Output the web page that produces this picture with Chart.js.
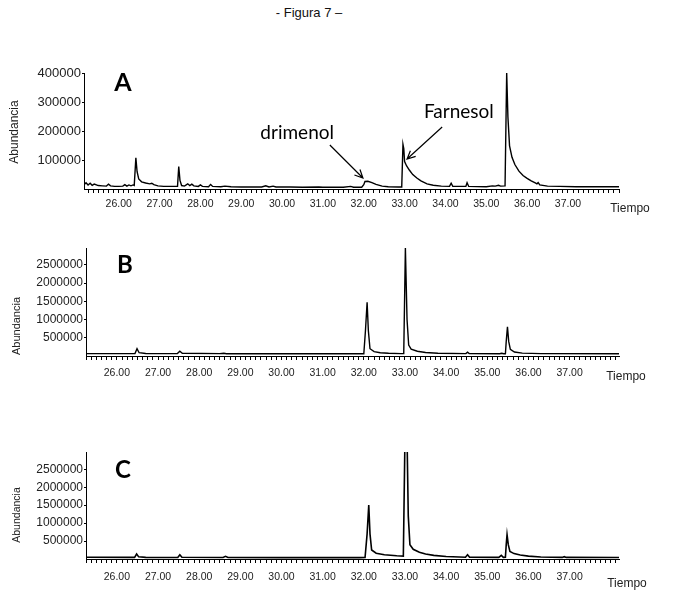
<!DOCTYPE html>
<html>
<head>
<meta charset="utf-8">
<script src="https://cdn.jsdelivr.net/npm/chart.js@4.4.1/dist/chart.umd.min.js"></script>
<style>
  body { margin: 0; background: #fff; }
  #page { position: relative; width: 675px; height: 594px; overflow: hidden; }
  #page canvas { position: absolute; left: 0; }
  .fig-title { position: absolute; left: 0; width: 618px; top: 5px; text-align: center;
               font: 13px "Liberation Sans", Arial, sans-serif; color: #111; }
</style>
</head>
<body>
<div id="page">
  <div class="fig-title">- Figura 7 –</div>
  <canvas id="chartA" width="675" height="175" style="top:50px"></canvas>
  <canvas id="chartB" width="675" height="160" style="top:230px"></canvas>
  <canvas id="chartC" width="675" height="159" style="top:435px"></canvas>
</div>
<script>
// x tick labels (minutes), shown on every panel
const xLabels = [26, 27, 28, 29, 30, 31, 32, 33, 34, 35, 36, 37];

// Panel A - abundance vs retention time
const timesA = [25.15, 25.2, 25.25, 25.3, 25.35, 25.4, 25.5, 25.6, 25.7, 25.75, 25.8, 25.9, 26.0, 26.1, 26.15, 26.2,
  26.25, 26.3, 26.35, 26.38, 26.42, 26.45, 26.49, 26.56, 26.66, 26.76, 26.81, 26.86, 26.96, 27.1, 27.3, 27.44,
  27.47, 27.5, 27.54, 27.61, 27.69, 27.74, 27.79, 27.84, 27.95, 28.0, 28.05, 28.2, 28.25, 28.3, 28.5, 28.6,
  28.75, 29.0, 29.5, 29.6, 29.68, 29.78, 29.85, 30.2, 30.5, 30.9, 31.0, 31.5, 31.68, 31.75, 31.95, 32.0,
  32.03, 32.1, 32.2, 32.3, 32.45, 32.6, 32.85, 32.93, 32.96, 32.98, 33.0, 33.05, 33.12, 33.2, 33.3, 33.4,
  33.55, 33.7, 33.9, 34.1, 34.14, 34.18, 34.5, 34.53, 34.57, 35.0, 35.15, 35.22, 35.3, 35.35, 35.46, 35.5,
  35.53, 35.57, 35.63, 35.7, 35.8, 35.9, 36.0, 36.1, 36.2, 36.24, 36.27, 36.31, 36.5, 36.8, 37.2, 37.8, 38.25];
const valuesA = [15000, 22000, 14000, 20000, 13000, 17000, 12000, 11000, 10000, 17000, 11000, 9000, 9000, 10000, 15000, 10000,
  14000, 11000, 14000, 12000, 108000, 60000, 35000, 25000, 21000, 18000, 20000, 15000, 11000, 9000, 9000, 9000,
  78000, 30000, 12000, 10000, 18000, 12000, 17000, 11000, 9000, 14000, 9000, 8000, 16000, 9000, 8000, 10000,
  8000, 7000, 7000, 11000, 7000, 10000, 7000, 7000, 6000, 7000, 6000, 6000, 9000, 6000, 6000, 15000,
  26000, 27000, 22000, 16000, 10000, 8000, 7000, 7000, 155000, 140000, 95000, 80000, 65000, 50000, 38000, 28000,
  18000, 13000, 10000, 9000, 20000, 9000, 9000, 22000, 9000, 8000, 11000, 10000, 13000, 10000, 11000, 403000,
  250000, 150000, 110000, 85000, 62000, 47000, 37000, 28000, 21000, 18000, 22000, 14000, 10000, 9000, 8000, 8000, 8000];
const yTicksA = [100000, 200000, 300000, 400000];

// Panel B
const timesB = [25.25, 26.0, 26.44, 26.49, 26.54, 26.7, 27.47, 27.53, 27.59, 28.5, 28.6, 28.66, 30.0, 31.5, 32.0,
  32.04, 32.08, 32.11, 32.15, 32.25, 32.4, 32.6, 32.9, 32.97, 33.01, 33.05, 33.09, 33.15, 33.3, 33.5,
  33.8, 34.48, 34.52, 34.56, 35.3, 35.35, 35.4, 35.44, 35.46, 35.49, 35.52, 35.56, 35.66, 35.85, 36.3, 38.2];
const valuesB = [65000, 65000, 65000, 200000, 90000, 70000, 65000, 130000, 75000, 65000, 75000, 63000, 60000, 60000, 60000,
  700000, 1470000, 700000, 200000, 120000, 90000, 75000, 65000, 65000, 2960000, 1000000, 300000, 190000, 130000, 95000,
  75000, 65000, 105000, 65000, 62000, 75000, 62000, 62000, 400000, 800000, 400000, 180000, 110000, 80000, 65000, 60000];
const yTicksBC = [500000, 1000000, 1500000, 2000000, 2500000];

// Panel C
const timesC = [25.25, 26.3, 26.43, 26.48, 26.53, 26.7, 27.48, 27.53, 27.58, 28.58, 28.64, 28.7, 30.0, 31.9, 32.03,
  32.08, 32.12, 32.15, 32.19, 32.3, 32.5, 32.8, 32.96, 33.0, 33.05, 33.08, 33.12, 33.2, 33.35, 33.5,
  33.7, 34.0, 34.47, 34.52, 34.57, 35.28, 35.34, 35.39, 35.44, 35.46, 35.48, 35.51, 35.55, 35.65, 35.8, 36.0,
  36.3, 36.82, 36.87, 36.92, 38.2];
const valuesC = [50000, 45000, 45000, 140000, 60000, 45000, 43000, 120000, 50000, 40000, 75000, 40000, 38000, 38000, 42000,
  700000, 1500000, 700000, 250000, 160000, 120000, 90000, 80000, 3400000, 3400000, 1200000, 400000, 270000, 190000, 140000,
  100000, 70000, 50000, 120000, 50000, 45000, 100000, 45000, 50000, 400000, 680000, 400000, 210000, 150000, 110000, 80000,
  55000, 45000, 65000, 45000, 40000];

const SANS = '"Liberation Sans", Arial, sans-serif';

// draws panel letter, axis words and the arrows of panel A
const decor = {
  id: 'decor',
  afterDraw(chart, args, o) {
    const ctx = chart.ctx, xs = chart.scales.x, ys = chart.scales.y, area = chart.chartArea;
    ctx.save();
    ctx.fillStyle = '#000';
    ctx.strokeStyle = '#000';
    ctx.textAlign = 'center';
    ctx.textBaseline = 'middle';

    ctx.font = 'bold ' + o.letterSize + 'px Lato, "Open Sans", sans-serif';
    ctx.fillText(o.letter, area.left + o.letterAt[0], area.top + o.letterAt[1]);

    ctx.save();
    ctx.translate(o.yTitleAt[0], o.yTitleAt[1]);
    ctx.rotate(-Math.PI / 2);
    ctx.font = o.yTitleSize + 'px ' + SANS;
    ctx.fillStyle = '#222';
    ctx.fillText('Abundancia', 0, 0);
    ctx.restore();

    ctx.font = '12px ' + SANS;
    ctx.fillStyle = '#222';
    ctx.fillText('Tiempo', area.right + o.tiempoAt[0], area.bottom + o.tiempoAt[1]);

    ctx.fillStyle = '#000';
    (o.notes || []).forEach(n => {
      ctx.font = '19px Lato, "Open Sans", sans-serif';
      ctx.fillText(n.text, xs.getPixelForValue(n.at[0]), ys.getPixelForValue(n.at[1]));
      const x0 = xs.getPixelForValue(n.from[0]), y0 = ys.getPixelForValue(n.from[1]);
      const x1 = xs.getPixelForValue(n.to[0]), y1 = ys.getPixelForValue(n.to[1]);
      const ang = Math.atan2(y1 - y0, x1 - x0), head = 9;
      ctx.lineWidth = 1.2;
      ctx.beginPath();
      ctx.moveTo(x0, y0);
      ctx.lineTo(x1, y1);
      ctx.moveTo(x1 - head * Math.cos(ang - 0.45), y1 - head * Math.sin(ang - 0.45));
      ctx.lineTo(x1, y1);
      ctx.lineTo(x1 - head * Math.cos(ang + 0.45), y1 - head * Math.sin(ang + 0.45));
      ctx.stroke();
    });
    ctx.restore();
  }
};

function makePanel(id, times, values, cfg) {
  return new Chart(document.getElementById(id), {
    type: 'line',
    data: {
      datasets: [{
        data: times.map((t, i) => ({ x: t, y: values[i] })),
        borderColor: '#000', borderWidth: cfg.lineWidth, pointRadius: 0, tension: 0, fill: false
      }]
    },
    options: {
      responsive: false, animation: false, devicePixelRatio: 1,
      layout: { padding: { top: cfg.padTop, right: 675 - cfg.right, bottom: 0, left: 0 } },
      plugins: { legend: { display: false }, tooltip: { enabled: false }, decor: cfg.decor },
      scales: {
        x: {
          type: 'linear', min: cfg.xMin, max: cfg.xMax,
          afterBuildTicks: s => {
            const ticks = [];
            for (let k = Math.ceil(cfg.xMin * 8); k <= Math.floor(cfg.xMax * 8 + 1e-6); k++) ticks.push({ value: k / 8 });
            s.ticks = ticks;
          },
          afterFit: s => { s.height = cfg.xHeight; },
          grid: { drawOnChartArea: false, color: '#000', tickLength: 4, lineWidth: 1 },
          border: { color: '#000', width: 1 },
          ticks: {
            autoSkip: false, maxRotation: 0, padding: cfg.xPad, color: '#222',
            font: { family: SANS, size: 10.5 },
            callback: v => xLabels.includes(v) ? v.toFixed(2) : ''
          }
        },
        y: {
          min: 0, max: cfg.yMax,
          afterBuildTicks: s => { s.ticks = cfg.yTicks.map(v => ({ value: v })); },
          afterFit: s => { s.width = cfg.left; },
          grid: { drawOnChartArea: false, color: '#000', tickLength: 2 },
          border: { color: '#000', width: 1 },
          ticks: { padding: 1, color: '#222', font: { family: SANS, size: cfg.ySize }, callback: v => String(v) }
        }
      }
    },
    plugins: [decor]
  });
}

makePanel('chartA', timesA, valuesA, {
  xMin: 25.15, xMax: 38.25, yMax: 403000, yTicks: yTicksA, left: 84, right: 619, padTop: 23, xHeight: 36,
  xPad: 5, ySize: 13, lineWidth: 1.4,
  decor: {
    letter: 'A', letterSize: 25, letterAt: [39, 10], yTitleAt: [15, 82], yTitleSize: 12, tiempoAt: [11, 20],
    notes: [
      { text: 'drimenol', at: [30.37, 194500], from: [31.17, 152900], to: [31.98, 38200] },
      { text: 'Farnesol', at: [34.33, 267500], from: [33.92, 215400], to: [33.06, 104200] }
    ]
  }
});

makePanel('chartB', timesB, valuesB, {
  xMin: 25.25, xMax: 38.2, yMax: 2960000, yTicks: yTicksBC, left: 86, right: 619, padTop: 18, xHeight: 34,
  xPad: 7, ySize: 12, lineWidth: 1.4,
  decor: { letter: 'B', letterSize: 24, letterAt: [39, 17], yTitleAt: [17, 96], yTitleSize: 11, tiempoAt: [7, 21] }
});

makePanel('chartC', timesC, valuesC, {
  xMin: 25.25, xMax: 38.2, yMax: 2980000, yTicks: yTicksBC, left: 86, right: 619, padTop: 17, xHeight: 35,
  xPad: 8, ySize: 12, lineWidth: 1.6,
  decor: { letter: 'C', letterSize: 24, letterAt: [37, 18], yTitleAt: [17, 80], yTitleSize: 10.5, tiempoAt: [8, 25] }
});
</script>
</body>
</html>
